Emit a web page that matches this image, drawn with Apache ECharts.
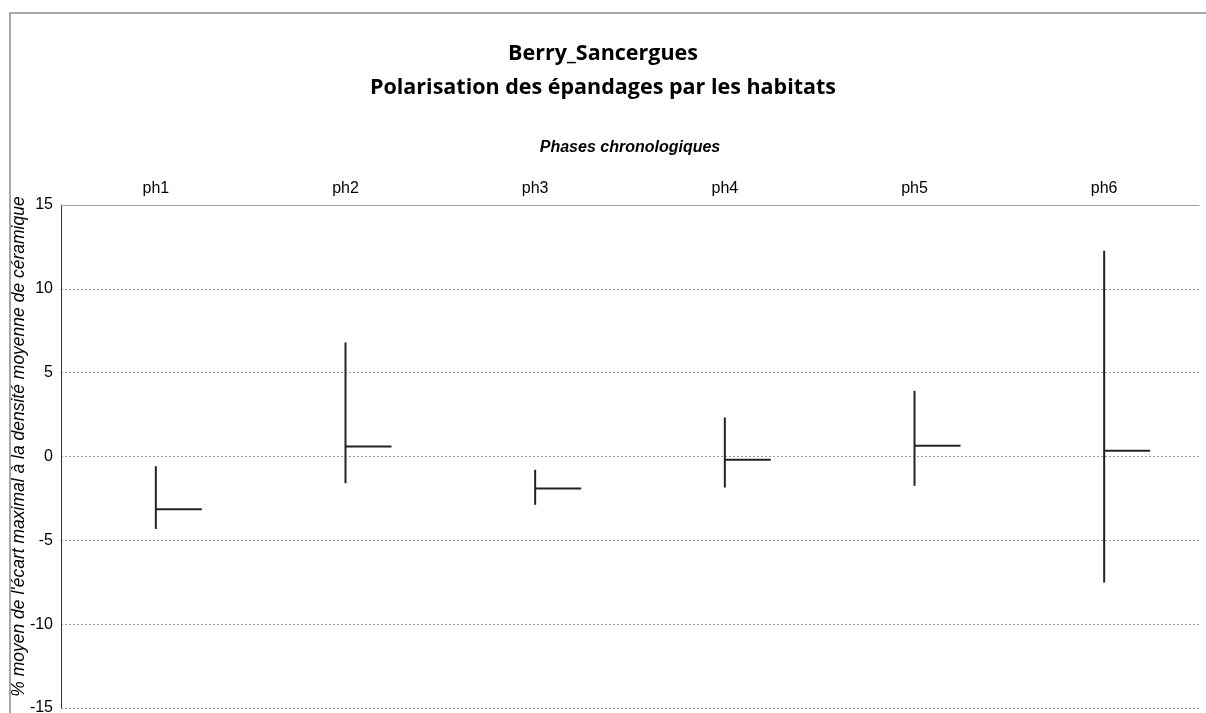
<!DOCTYPE html>
<html>
<head>
<meta charset="utf-8">
<script src="https://cdn.jsdelivr.net/npm/echarts@6/dist/echarts.min.js"></script>
<style>
html,body{margin:0;padding:0;background:#fff;}
#main{width:1206px;height:713px;}
</style>
</head>
<body>
<div id="main"></div>
<script>
const categories = ['ph1', 'ph2', 'ph3', 'ph4', 'ph5', 'ph6'];
const highValues = [-0.58, 6.80, -0.79, 2.33, 3.92, 12.27];
const lowValues = [-4.32, -1.59, -2.88, -1.85, -1.75, -7.51];
const closeValues = [-3.15, 0.59, -1.91, -0.20, 0.64, 0.34];
const yTicks = [-15, -10, -5, 0, 5, 10, 15];

const data = categories.map((c, i) => [i, highValues[i], lowValues[i], closeValues[i]]);

const chart = echarts.init(document.getElementById('main'));
chart.setOption({
  backgroundColor: '#fff',
  animation: false,
  graphic: [{
    type: 'rect',
    shape: { x: 10, y: 13, width: 1400, height: 900 },
    style: { fill: 'none', stroke: '#8a8a8a', lineWidth: 1.5 },
    silent: true
  }],
  title: {
    text: 'Berry_Sancergues\nPolarisation des épandages par les habitats',
    left: 'center',
    top: 32,
    textStyle: {
      fontFamily: 'Open Sans',
      fontWeight: 'bold',
      fontSize: 21.5,
      lineHeight: 34,
      color: '#000'
    }
  },
  grid: { left: 61, right: 7, top: 205, bottom: 5, containLabel: false, outerBoundsMode: 'none' },
  xAxis: {
    type: 'category',
    position: 'top',
    data: categories,
    name: 'Phases chronologiques',
    nameLocation: 'middle',
    nameGap: 49,
    nameMoveOverlap: false,
    nameTextStyle: {
      fontFamily: 'Liberation Sans',
      fontStyle: 'italic',
      fontWeight: 'bold',
      fontSize: 16,
      color: '#000'
    },
    axisLine: { onZero: false, lineStyle: { color: '#a0a0a0', width: 1 } },
    axisTick: { show: false },
    axisLabel: { fontFamily: 'Liberation Sans', fontSize: 16, color: '#000', margin: 8 },
    splitLine: { show: false }
  },
  yAxis: {
    type: 'value',
    min: -15,
    max: 15,
    interval: 5,
    name: "% moyen de l'écart maximal à la densité moyenne de céramique",
    nameLocation: 'middle',
    nameGap: 33,
    nameMoveOverlap: false,
    nameTextStyle: {
      fontFamily: 'Liberation Sans',
      fontStyle: 'italic',
      fontSize: 17.5,
      color: '#000',
      padding: [0, 0, 0, 20]
    },
    axisLine: { show: true, onZero: false, lineStyle: { color: '#333', width: 1 } },
    axisTick: { show: false },
    axisLabel: {
      fontFamily: 'Liberation Sans', fontSize: 16, color: '#000', margin: 8,
      formatter: v => yTicks.includes(v) ? String(v) : ''
    },
    splitLine: { show: true, lineStyle: { color: '#999', type: [2, 2], width: 1 } }
  },
  series: [{
    type: 'custom',
    data: data,
    encode: { x: 0, y: [1, 2, 3] },
    renderItem: function (params, api) {
      const i = api.value(0);
      const hi = api.coord([i, api.value(1)]);
      const lo = api.coord([i, api.value(2)]);
      const cl = api.coord([i, api.value(3)]);
      const style = { stroke: '#222', lineWidth: 2 };
      return {
        type: 'group',
        children: [
          { type: 'line', shape: { x1: hi[0], y1: hi[1], x2: lo[0], y2: lo[1] }, style: style },
          { type: 'line', shape: { x1: cl[0], y1: cl[1], x2: cl[0] + 46, y2: cl[1] }, style: style }
        ]
      };
    }
  }]
});
</script>
</body>
</html>
